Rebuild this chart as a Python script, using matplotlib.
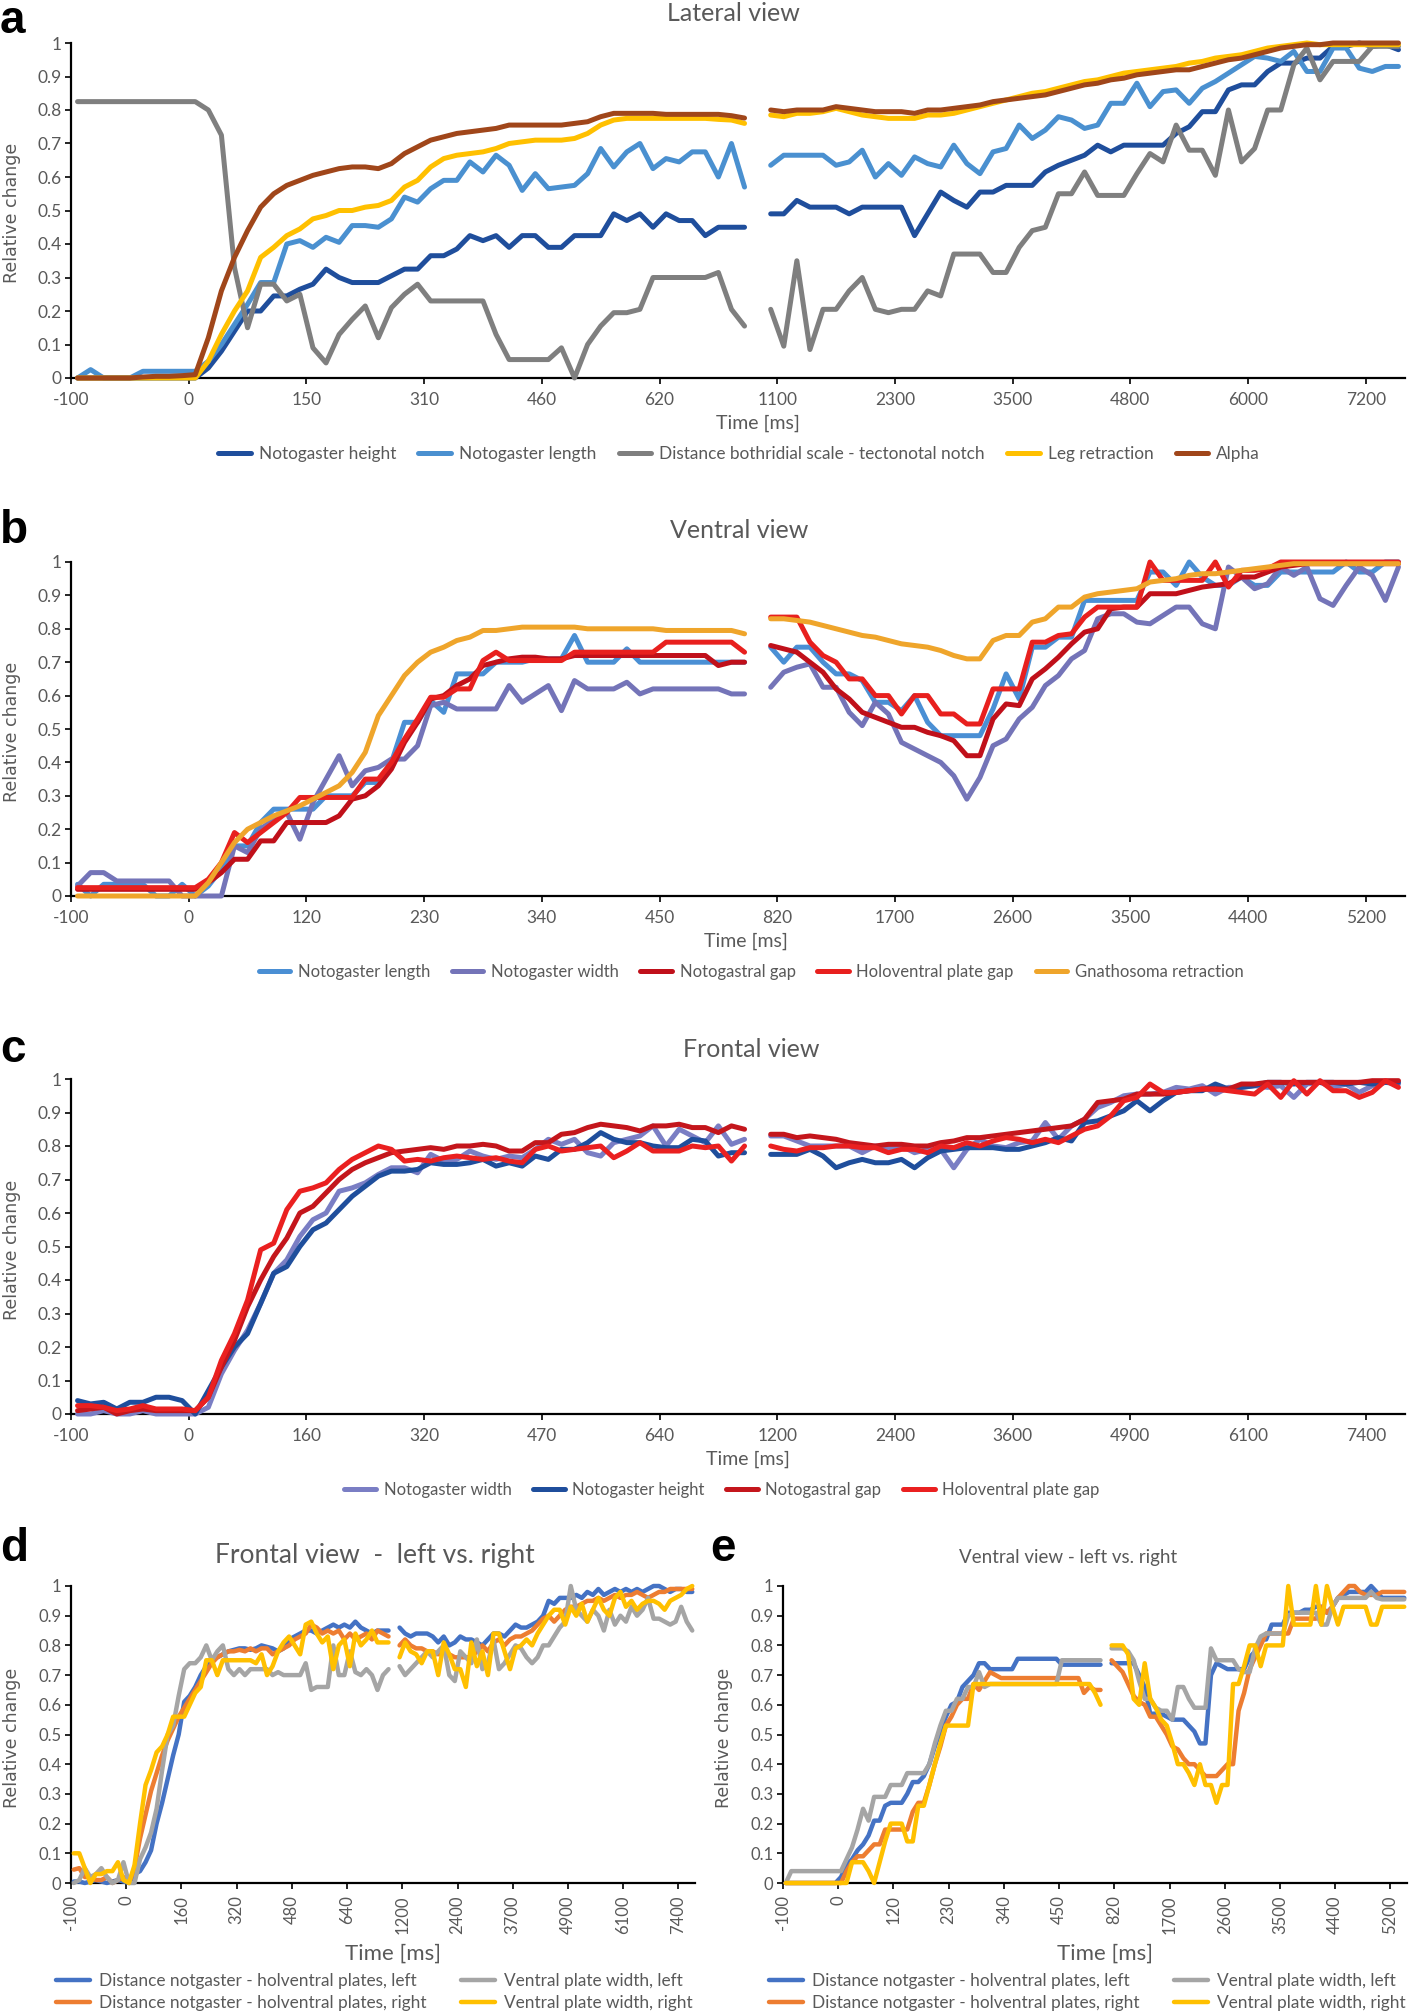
import numpy as np
import matplotlib
matplotlib.use('Agg')
import matplotlib.pyplot as plt

plt.rcParams['font.family'] = ['Lato', 'DejaVu Sans']

# ---------------- DATA ----------------
y_tick_labels = ['0', '0.1', '0.2', '0.3', '0.4', '0.5', '0.6', '0.7', '0.8', '0.9', '1']

# Panel a - Lateral view
a_ticks = ['-100', '0', '150', '310', '460', '620', '1100', '2300', '3500', '4800', '6000', '7200']
a_labels = ['Notogaster height', 'Notogaster length', 'Distance bothridial scale - tectonotal notch',
            'Leg retraction', 'Alpha']
a_height_L = [0, 0, 0, 0, 0, 0, 0, 0, 0, 0, 0.03, 0.08, 0.14, 0.20, 0.20, 0.245, 0.245, 0.265, 0.28, 0.325,
              0.30, 0.285, 0.285, 0.285, 0.305, 0.325, 0.325, 0.365, 0.365, 0.385, 0.425, 0.41, 0.425, 0.39,
              0.425, 0.425, 0.39, 0.39, 0.425, 0.425, 0.425, 0.49, 0.47, 0.49, 0.45, 0.49, 0.47, 0.47, 0.425,
              0.45, 0.45, 0.45]
a_height_R = [0.49, 0.49, 0.53, 0.51, 0.51, 0.51, 0.49, 0.51, 0.51, 0.51, 0.51, 0.425, 0.49, 0.555, 0.53, 0.51,
              0.555, 0.555, 0.575, 0.575, 0.575, 0.615, 0.635, 0.65, 0.665, 0.695, 0.675, 0.695, 0.695, 0.695,
              0.695, 0.73, 0.75, 0.795, 0.795, 0.86, 0.875, 0.875, 0.915, 0.94, 0.94, 0.955, 0.955, 0.99, 0.99,
              1.0, 0.99, 0.995, 0.98]
a_length_L = [0, 0.025, 0, 0, 0, 0.02, 0.02, 0.02, 0.02, 0.02, 0.05, 0.10, 0.16, 0.22, 0.285, 0.285, 0.40, 0.41,
              0.39, 0.42, 0.405, 0.455, 0.455, 0.45, 0.475, 0.54, 0.525, 0.565, 0.59, 0.59, 0.645, 0.615, 0.665,
              0.635, 0.56, 0.61, 0.565, 0.57, 0.575, 0.61, 0.685, 0.63, 0.675, 0.70, 0.625, 0.655, 0.645, 0.675,
              0.675, 0.60, 0.70, 0.57]
a_length_R = [0.635, 0.665, 0.665, 0.665, 0.665, 0.635, 0.645, 0.68, 0.60, 0.64, 0.605, 0.66, 0.64, 0.63, 0.695,
              0.64, 0.61, 0.675, 0.685, 0.755, 0.715, 0.74, 0.78, 0.77, 0.745, 0.755, 0.82, 0.82, 0.88, 0.81,
              0.855, 0.86, 0.82, 0.865, 0.885, 0.91, 0.935, 0.96, 0.955, 0.945, 0.975, 0.915, 0.915, 0.985,
              0.985, 0.925, 0.915, 0.93, 0.93]
a_dist_L = [0.825, 0.825, 0.825, 0.825, 0.825, 0.825, 0.825, 0.825, 0.825, 0.825, 0.80, 0.725, 0.33, 0.15, 0.28,
            0.28, 0.23, 0.25, 0.09, 0.045, 0.13, 0.175, 0.215, 0.12, 0.21, 0.25, 0.28, 0.23, 0.23, 0.23, 0.23,
            0.23, 0.13, 0.055, 0.055, 0.055, 0.055, 0.09, 0.0, 0.10, 0.155, 0.195, 0.195, 0.205, 0.30, 0.30,
            0.30, 0.30, 0.30, 0.315, 0.205, 0.155]
a_dist_R = [0.205, 0.095, 0.35, 0.085, 0.205, 0.205, 0.26, 0.30, 0.205, 0.195, 0.205, 0.205, 0.26, 0.245, 0.37,
            0.37, 0.37, 0.315, 0.315, 0.39, 0.44, 0.45, 0.55, 0.55, 0.615, 0.545, 0.545, 0.545, 0.61, 0.67,
            0.645, 0.755, 0.68, 0.68, 0.605, 0.80, 0.645, 0.685, 0.80, 0.80, 0.935, 0.985, 0.89, 0.945, 0.945,
            0.945, 0.99, 0.99, 0.99]
a_leg_L = [0, 0, 0, 0, 0, 0, 0, 0, 0, 0, 0.05, 0.13, 0.20, 0.26, 0.36, 0.39, 0.425, 0.445, 0.475, 0.485, 0.50,
           0.50, 0.51, 0.515, 0.53, 0.57, 0.59, 0.63, 0.655, 0.665, 0.67, 0.675, 0.685, 0.70, 0.705, 0.71, 0.71,
           0.71, 0.715, 0.73, 0.755, 0.77, 0.775, 0.775, 0.775, 0.775, 0.775, 0.775, 0.775, 0.772, 0.77, 0.76]
a_leg_R = [0.785, 0.78, 0.79, 0.79, 0.795, 0.805, 0.795, 0.785, 0.78, 0.775, 0.775, 0.775, 0.785, 0.785, 0.79,
           0.80, 0.81, 0.82, 0.83, 0.84, 0.85, 0.855, 0.865, 0.875, 0.885, 0.89, 0.90, 0.91, 0.915, 0.92, 0.925,
           0.93, 0.94, 0.945, 0.955, 0.96, 0.965, 0.975, 0.985, 0.99, 0.995, 1.0, 0.995, 0.995, 0.995, 0.995,
           0.995, 0.995, 0.995]
a_alpha_L = [0, 0, 0, 0, 0, 0.003, 0.005, 0.005, 0.007, 0.01, 0.12, 0.26, 0.36, 0.44, 0.51, 0.55, 0.575, 0.59,
             0.605, 0.615, 0.625, 0.63, 0.63, 0.625, 0.64, 0.67, 0.69, 0.71, 0.72, 0.73, 0.735, 0.74, 0.745, 0.755,
             0.755, 0.755, 0.755, 0.755, 0.76, 0.765, 0.78, 0.79, 0.79, 0.79, 0.79, 0.787, 0.787, 0.787, 0.787,
             0.787, 0.783, 0.776]
a_alpha_R = [0.80, 0.795, 0.80, 0.80, 0.80, 0.81, 0.805, 0.80, 0.795, 0.795, 0.795, 0.79, 0.80, 0.80, 0.805, 0.81,
             0.815, 0.825, 0.83, 0.835, 0.84, 0.845, 0.855, 0.865, 0.875, 0.88, 0.89, 0.895, 0.905, 0.91, 0.915,
             0.92, 0.92, 0.93, 0.94, 0.95, 0.955, 0.965, 0.975, 0.985, 0.99, 0.995, 0.995, 1.0, 1.0, 1.0, 1.0,
             1.0, 1.0]

# Panel b - Ventral view
b_ticks = ['-100', '0', '120', '230', '340', '450', '820', '1700', '2600', '3500', '4400', '5200']
b_labels = ['Notogaster length', 'Notogaster width', 'Notogastral gap', 'Holoventral plate gap',
            'Gnathosoma retraction']
b_length_L = [0.035, 0.0, 0.035, 0.035, 0.035, 0.035, 0.0, 0.0, 0.035, 0.0, 0.03, 0.08, 0.15, 0.15, 0.22, 0.26,
              0.26, 0.26, 0.26, 0.30, 0.30, 0.30, 0.34, 0.34, 0.40, 0.52, 0.52, 0.585, 0.55, 0.665, 0.665, 0.665,
              0.70, 0.70, 0.70, 0.71, 0.71, 0.71, 0.78, 0.70, 0.70, 0.70, 0.74, 0.70, 0.70, 0.70, 0.70, 0.70,
              0.70, 0.70, 0.70, 0.70]
b_length_R = [0.745, 0.70, 0.745, 0.745, 0.70, 0.665, 0.665, 0.645, 0.58, 0.58, 0.555, 0.60, 0.52, 0.48, 0.48,
              0.48, 0.48, 0.56, 0.665, 0.59, 0.745, 0.745, 0.775, 0.775, 0.885, 0.885, 0.885, 0.885, 0.885, 0.97,
              0.97, 0.93, 1.0, 0.955, 0.93, 0.93, 0.955, 0.93, 0.93, 0.97, 0.97, 0.97, 0.97, 0.97, 1.0, 0.97,
              0.97, 1.0, 1.0]
b_width_L = [0.03, 0.07, 0.07, 0.045, 0.045, 0.045, 0.045, 0.045, 0.0, 0.0, 0.0, 0.0, 0.15, 0.13, 0.20, 0.23,
             0.25, 0.17, 0.28, 0.35, 0.42, 0.33, 0.375, 0.385, 0.41, 0.41, 0.45, 0.57, 0.58, 0.56, 0.56, 0.56,
             0.56, 0.63, 0.58, 0.605, 0.63, 0.555, 0.645, 0.62, 0.62, 0.62, 0.64, 0.605, 0.62, 0.62, 0.62, 0.62,
             0.62, 0.62, 0.605, 0.605]
b_width_R = [0.625, 0.67, 0.685, 0.695, 0.625, 0.625, 0.55, 0.51, 0.58, 0.545, 0.46, 0.44, 0.42, 0.40, 0.36,
             0.29, 0.355, 0.45, 0.47, 0.53, 0.565, 0.63, 0.66, 0.71, 0.735, 0.83, 0.845, 0.845, 0.82, 0.815,
             0.84, 0.865, 0.865, 0.815, 0.80, 0.985, 0.955, 0.92, 0.935, 0.985, 0.96, 0.985, 0.89, 0.87, 0.93,
             0.985, 0.96, 0.885, 0.985]
b_ngap_L = [0.02, 0.02, 0.02, 0.02, 0.02, 0.02, 0.02, 0.02, 0.02, 0.02, 0.04, 0.07, 0.11, 0.11, 0.165, 0.165,
            0.22, 0.22, 0.22, 0.22, 0.24, 0.29, 0.30, 0.33, 0.38, 0.46, 0.52, 0.59, 0.60, 0.63, 0.65, 0.69, 0.70,
            0.71, 0.715, 0.715, 0.71, 0.71, 0.72, 0.72, 0.72, 0.72, 0.72, 0.72, 0.72, 0.72, 0.72, 0.72, 0.72,
            0.69, 0.70, 0.70]
b_ngap_R = [0.75, 0.74, 0.73, 0.70, 0.67, 0.62, 0.59, 0.55, 0.535, 0.52, 0.505, 0.505, 0.49, 0.48, 0.465, 0.42,
            0.42, 0.53, 0.575, 0.57, 0.65, 0.68, 0.715, 0.755, 0.79, 0.80, 0.86, 0.865, 0.865, 0.905, 0.905,
            0.905, 0.915, 0.925, 0.93, 0.935, 0.955, 0.955, 0.97, 0.985, 0.99, 0.995, 0.995, 0.995, 0.995, 0.995,
            0.995, 0.995, 0.995]
b_hgap_L = [0.025, 0.025, 0.025, 0.025, 0.025, 0.025, 0.025, 0.025, 0.025, 0.025, 0.05, 0.10, 0.19, 0.16, 0.19,
            0.22, 0.25, 0.295, 0.295, 0.295, 0.295, 0.295, 0.35, 0.35, 0.40, 0.47, 0.53, 0.595, 0.595, 0.62,
            0.62, 0.705, 0.73, 0.705, 0.705, 0.705, 0.705, 0.705, 0.73, 0.73, 0.73, 0.73, 0.73, 0.73, 0.73,
            0.76, 0.76, 0.76, 0.76, 0.76, 0.76, 0.73]
b_hgap_R = [0.835, 0.835, 0.835, 0.76, 0.72, 0.70, 0.65, 0.65, 0.60, 0.60, 0.545, 0.60, 0.60, 0.545, 0.545,
            0.515, 0.515, 0.62, 0.62, 0.62, 0.76, 0.76, 0.78, 0.785, 0.835, 0.865, 0.865, 0.865, 0.865, 1.0,
            0.945, 0.945, 0.945, 0.945, 1.0, 0.925, 0.975, 0.975, 0.98, 1.0, 1.0, 1.0, 1.0, 1.0, 1.0, 1.0, 1.0,
            1.0, 1.0]
b_gnath_L = [0, 0, 0, 0, 0, 0, 0, 0, 0, 0, 0.04, 0.10, 0.16, 0.20, 0.22, 0.24, 0.255, 0.27, 0.29, 0.31, 0.33,
             0.37, 0.43, 0.54, 0.60, 0.66, 0.70, 0.73, 0.745, 0.765, 0.775, 0.795, 0.795, 0.80, 0.805, 0.805,
             0.805, 0.805, 0.805, 0.80, 0.80, 0.80, 0.80, 0.80, 0.80, 0.795, 0.795, 0.795, 0.795, 0.795, 0.795,
             0.785]
b_gnath_R = [0.83, 0.83, 0.825, 0.82, 0.81, 0.80, 0.79, 0.78, 0.775, 0.765, 0.755, 0.75, 0.745, 0.735, 0.72,
             0.71, 0.71, 0.765, 0.78, 0.78, 0.82, 0.83, 0.865, 0.865, 0.895, 0.905, 0.91, 0.915, 0.92, 0.94,
             0.945, 0.95, 0.96, 0.965, 0.965, 0.97, 0.975, 0.98, 0.985, 0.99, 0.995, 0.995, 0.995, 0.995, 0.995,
             0.995, 0.995, 0.995, 0.995]

# Panel c - Frontal view
c_ticks = ['-100', '0', '160', '320', '470', '640', '1200', '2400', '3600', '4900', '6100', '7400']
c_labels = ['Notogaster width', 'Notogaster height', 'Notogastral gap', 'Holoventral plate gap']
c_width_L = [0.0, 0.0, 0.01, 0.0, 0.0, 0.01, 0.0, 0.0, 0.0, 0.0, 0.02, 0.12, 0.19, 0.25, 0.33, 0.42, 0.46, 0.53,
             0.58, 0.60, 0.665, 0.675, 0.69, 0.715, 0.735, 0.735, 0.72, 0.775, 0.755, 0.76, 0.785, 0.77, 0.76,
             0.77, 0.765, 0.79, 0.82, 0.805, 0.82, 0.78, 0.77, 0.81, 0.82, 0.83, 0.86, 0.80, 0.85, 0.83, 0.81,
             0.86, 0.805, 0.82]
c_width_R = [0.83, 0.83, 0.815, 0.80, 0.80, 0.80, 0.80, 0.78, 0.80, 0.795, 0.80, 0.78, 0.79, 0.79, 0.735, 0.79,
             0.82, 0.80, 0.795, 0.81, 0.815, 0.87, 0.82, 0.86, 0.88, 0.915, 0.93, 0.95, 0.955, 0.955, 0.96, 0.975,
             0.97, 0.98, 0.955, 0.975, 0.975, 0.98, 0.975, 0.98, 0.945, 0.985, 0.99, 0.975, 0.985, 0.96, 0.98,
             0.99, 0.985]
c_height_L = [0.04, 0.03, 0.035, 0.015, 0.035, 0.035, 0.05, 0.05, 0.04, 0.0, 0.07, 0.14, 0.20, 0.24, 0.33, 0.42,
              0.44, 0.50, 0.55, 0.57, 0.61, 0.65, 0.68, 0.71, 0.725, 0.725, 0.73, 0.75, 0.745, 0.745, 0.75, 0.76,
              0.74, 0.75, 0.74, 0.77, 0.76, 0.79, 0.79, 0.81, 0.84, 0.82, 0.81, 0.81, 0.80, 0.795, 0.795, 0.82,
              0.815, 0.77, 0.78, 0.78]
c_height_R = [0.775, 0.775, 0.775, 0.79, 0.77, 0.735, 0.75, 0.76, 0.75, 0.75, 0.76, 0.735, 0.765, 0.785, 0.79,
              0.795, 0.795, 0.795, 0.79, 0.79, 0.80, 0.81, 0.825, 0.815, 0.87, 0.875, 0.89, 0.905, 0.935, 0.905,
              0.935, 0.96, 0.965, 0.965, 0.985, 0.97, 0.975, 0.98, 0.99, 0.99, 0.985, 0.99, 0.99, 0.99, 0.985,
              0.99, 0.985, 0.99, 0.99]
c_ngap_L = [0.01, 0.015, 0.02, 0.0, 0.01, 0.015, 0.01, 0.01, 0.01, 0.01, 0.05, 0.14, 0.22, 0.32, 0.40, 0.47,
            0.525, 0.60, 0.62, 0.66, 0.70, 0.73, 0.75, 0.765, 0.78, 0.785, 0.79, 0.795, 0.79, 0.80, 0.80, 0.805,
            0.80, 0.785, 0.785, 0.81, 0.81, 0.835, 0.84, 0.855, 0.865, 0.86, 0.855, 0.845, 0.86, 0.86, 0.865,
            0.855, 0.855, 0.84, 0.86, 0.85]
c_ngap_R = [0.835, 0.835, 0.825, 0.83, 0.825, 0.82, 0.81, 0.805, 0.80, 0.805, 0.805, 0.80, 0.80, 0.81, 0.815,
            0.825, 0.825, 0.83, 0.835, 0.84, 0.845, 0.85, 0.855, 0.86, 0.88, 0.93, 0.935, 0.94, 0.955, 0.955,
            0.955, 0.96, 0.965, 0.97, 0.97, 0.97, 0.985, 0.985, 0.99, 0.99, 0.99, 0.99, 0.99, 0.99, 0.99, 0.99,
            0.995, 0.995, 0.995]
c_hgap_L = [0.025, 0.025, 0.02, 0.01, 0.015, 0.025, 0.015, 0.015, 0.015, 0.01, 0.05, 0.16, 0.24, 0.34, 0.49,
            0.51, 0.61, 0.665, 0.675, 0.69, 0.73, 0.76, 0.78, 0.80, 0.79, 0.755, 0.76, 0.755, 0.765, 0.77, 0.765,
            0.76, 0.765, 0.755, 0.75, 0.79, 0.80, 0.785, 0.79, 0.795, 0.80, 0.765, 0.785, 0.81, 0.785, 0.785,
            0.785, 0.80, 0.795, 0.80, 0.755, 0.80]
c_hgap_R = [0.80, 0.79, 0.785, 0.795, 0.795, 0.80, 0.80, 0.795, 0.795, 0.78, 0.79, 0.79, 0.78, 0.80, 0.795, 0.81,
            0.80, 0.815, 0.825, 0.82, 0.81, 0.82, 0.81, 0.83, 0.85, 0.86, 0.89, 0.935, 0.945, 0.985, 0.96, 0.96,
            0.965, 0.97, 0.97, 0.965, 0.96, 0.955, 0.985, 0.945, 0.995, 0.955, 0.995, 0.965, 0.965, 0.945, 0.96,
            0.995, 0.975]

# Panel d - Frontal view, left vs right
d_ticks = ['-100', '0', '160', '320', '480', '640', '1200', '2400', '3700', '4900', '6100', '7400']
lr_labels = ['Distance notgaster - holventral plates, left', 'Distance notgaster - holventral plates, right',
             'Ventral plate width, left', 'Ventral plate width, right']
d_dl_L = [0.005, 0.005, 0.0, 0.005, 0.01, 0.005, 0.0, 0.005, 0.01, 0.005, 0.0, 0.03, 0.04, 0.07, 0.11, 0.20, 0.27,
          0.35, 0.43, 0.50, 0.61, 0.63, 0.66, 0.70, 0.73, 0.75, 0.76, 0.77, 0.78, 0.785, 0.79, 0.79, 0.785, 0.79,
          0.80, 0.795, 0.79, 0.78, 0.79, 0.82, 0.83, 0.84, 0.85, 0.85, 0.84, 0.85, 0.86, 0.87, 0.86, 0.87, 0.86,
          0.88, 0.86, 0.85, 0.84, 0.85, 0.85, 0.85]
d_dl_R = [0.86, 0.84, 0.83, 0.84, 0.84, 0.84, 0.83, 0.81, 0.83, 0.80, 0.81, 0.83, 0.82, 0.82, 0.81, 0.80, 0.82,
          0.84, 0.84, 0.83, 0.85, 0.87, 0.86, 0.86, 0.87, 0.88, 0.90, 0.95, 0.94, 0.96, 0.96, 0.96, 0.97, 0.96,
          0.98, 0.97, 0.99, 0.97, 0.98, 0.99, 0.98, 0.99, 0.98, 0.99, 0.98, 0.99, 1.0, 1.0, 0.99, 0.98, 0.99,
          0.99, 0.98, 0.98]
d_dr_L = [0.045, 0.05, 0.02, 0.02, 0.01, 0.01, 0.02, 0.0, 0.01, 0.02, 0.0, 0.05, 0.15, 0.23, 0.31, 0.37, 0.43,
          0.48, 0.52, 0.56, 0.59, 0.62, 0.65, 0.68, 0.71, 0.74, 0.76, 0.77, 0.78, 0.78, 0.785, 0.78, 0.79, 0.78,
          0.79, 0.79, 0.77, 0.78, 0.79, 0.80, 0.82, 0.83, 0.84, 0.87, 0.86, 0.84, 0.85, 0.84, 0.85, 0.82, 0.84,
          0.82, 0.83, 0.84, 0.82, 0.85, 0.84, 0.83]
d_dr_R = [0.80, 0.82, 0.80, 0.79, 0.79, 0.78, 0.78, 0.77, 0.78, 0.77, 0.76, 0.76, 0.76, 0.76, 0.78, 0.80, 0.78,
          0.81, 0.82, 0.80, 0.82, 0.83, 0.83, 0.84, 0.85, 0.87, 0.89, 0.90, 0.88, 0.90, 0.92, 0.93, 0.93, 0.94,
          0.95, 0.95, 0.96, 0.95, 0.96, 0.97, 0.96, 0.97, 0.97, 0.98, 0.97, 0.96, 0.97, 0.98, 0.98, 0.99, 0.99,
          0.99, 0.99, 0.99]
d_vl_L = [0.0, 0.01, 0.05, 0.02, 0.03, 0.05, 0.02, 0.0, 0.01, 0.07, 0.0, 0.0, 0.08, 0.12, 0.17, 0.25, 0.38, 0.50,
          0.53, 0.63, 0.72, 0.74, 0.74, 0.76, 0.80, 0.75, 0.78, 0.80, 0.72, 0.70, 0.72, 0.70, 0.72, 0.72, 0.72,
          0.72, 0.70, 0.71, 0.70, 0.70, 0.70, 0.70, 0.74, 0.65, 0.66, 0.66, 0.66, 0.80, 0.70, 0.70, 0.78, 0.71,
          0.70, 0.72, 0.70, 0.65, 0.70, 0.72]
d_vl_R = [0.73, 0.70, 0.72, 0.74, 0.76, 0.78, 0.76, 0.78, 0.80, 0.70, 0.68, 0.78, 0.76, 0.74, 0.82, 0.72, 0.74,
          0.82, 0.72, 0.74, 0.77, 0.80, 0.79, 0.76, 0.74, 0.76, 0.80, 0.80, 0.83, 0.86, 0.88, 1.0, 0.92, 0.90,
          0.88, 0.92, 0.90, 0.85, 0.92, 0.87, 0.90, 0.88, 0.93, 0.90, 0.92, 0.96, 0.89, 0.89, 0.88, 0.87, 0.88,
          0.93, 0.88, 0.85]
d_vr_L = [0.10, 0.10, 0.05, 0.0, 0.03, 0.03, 0.04, 0.04, 0.07, 0.01, 0.0, 0.06, 0.20, 0.33, 0.38, 0.44, 0.46,
          0.50, 0.56, 0.56, 0.56, 0.60, 0.64, 0.66, 0.75, 0.75, 0.70, 0.75, 0.75, 0.75, 0.75, 0.75, 0.75, 0.74,
          0.77, 0.70, 0.73, 0.78, 0.81, 0.83, 0.80, 0.77, 0.87, 0.88, 0.84, 0.81, 0.83, 0.72, 0.80, 0.82, 0.73,
          0.84, 0.80, 0.82, 0.85, 0.81, 0.81, 0.81]
d_vr_R = [0.76, 0.81, 0.78, 0.77, 0.74, 0.78, 0.78, 0.70, 0.81, 0.77, 0.72, 0.72, 0.66, 0.81, 0.73, 0.78, 0.70,
          0.84, 0.84, 0.78, 0.72, 0.79, 0.80, 0.82, 0.80, 0.84, 0.87, 0.90, 0.92, 0.92, 0.87, 0.93, 0.90, 0.94,
          0.88, 0.92, 0.96, 0.92, 0.90, 0.96, 0.98, 0.93, 0.95, 0.92, 0.94, 0.95, 0.95, 0.94, 0.92, 0.95, 0.96,
          0.97, 0.99, 1.0]

# Panel e - Ventral view, left vs right
e_ticks = ['-100', '0', '120', '230', '340', '450', '820', '1700', '2600', '3500', '4400', '5200']
e_dl_L = [0, 0, 0, 0, 0, 0, 0, 0, 0, 0, 0.02, 0.06, 0.08, 0.11, 0.13, 0.16, 0.21, 0.21, 0.26, 0.27, 0.27, 0.27,
          0.30, 0.34, 0.34, 0.36, 0.40, 0.46, 0.51, 0.56, 0.60, 0.61, 0.66, 0.68, 0.70, 0.74, 0.74, 0.72, 0.72,
          0.72, 0.72, 0.72, 0.755, 0.755, 0.755, 0.755, 0.755, 0.755, 0.755, 0.755, 0.735, 0.735, 0.735, 0.735,
          0.735, 0.735, 0.735, 0.735]
e_dl_R = [0.74, 0.74, 0.74, 0.74, 0.74, 0.70, 0.66, 0.57, 0.57, 0.57, 0.56, 0.55, 0.55, 0.55, 0.53, 0.51, 0.47,
          0.47, 0.70, 0.74, 0.73, 0.72, 0.72, 0.72, 0.72, 0.76, 0.78, 0.82, 0.82, 0.87, 0.87, 0.87, 0.91, 0.91,
          0.91, 0.92, 0.92, 0.93, 0.93, 0.91, 0.93, 0.96, 0.97, 0.98, 0.98, 0.98, 0.98, 1.0, 0.98, 0.96, 0.96,
          0.96, 0.96, 0.96]
e_dr_L = [0, 0, 0, 0, 0, 0, 0, 0, 0, 0, 0.0, 0.04, 0.07, 0.09, 0.09, 0.11, 0.13, 0.13, 0.18, 0.18, 0.18, 0.18,
          0.18, 0.24, 0.27, 0.27, 0.33, 0.40, 0.46, 0.53, 0.56, 0.60, 0.62, 0.62, 0.67, 0.65, 0.68, 0.71, 0.70,
          0.69, 0.69, 0.69, 0.69, 0.69, 0.69, 0.69, 0.69, 0.69, 0.69, 0.69, 0.69, 0.69, 0.69, 0.69, 0.64, 0.66,
          0.65, 0.65]
e_dr_R = [0.75, 0.73, 0.71, 0.67, 0.63, 0.61, 0.60, 0.56, 0.56, 0.53, 0.50, 0.46, 0.45, 0.42, 0.40, 0.40, 0.38,
          0.36, 0.36, 0.36, 0.38, 0.40, 0.40, 0.58, 0.64, 0.72, 0.76, 0.80, 0.84, 0.84, 0.84, 0.84, 0.84, 0.89,
          0.89, 0.89, 0.89, 0.89, 0.93, 0.91, 0.93, 0.96, 0.98, 1.0, 1.0, 0.98, 0.97, 0.97, 0.97, 0.98, 0.98,
          0.98, 0.98, 0.98]
e_vl_L = [0.0, 0.04, 0.04, 0.04, 0.04, 0.04, 0.04, 0.04, 0.04, 0.04, 0.04, 0.08, 0.12, 0.18, 0.25, 0.21, 0.29,
          0.29, 0.29, 0.33, 0.33, 0.33, 0.37, 0.37, 0.37, 0.37, 0.40, 0.47, 0.53, 0.58, 0.58, 0.62, 0.62, 0.66,
          0.66, 0.71, 0.66, 0.67, 0.67, 0.67, 0.67, 0.67, 0.67, 0.67, 0.67, 0.67, 0.67, 0.67, 0.67, 0.67, 0.75,
          0.75, 0.75, 0.75, 0.75, 0.75, 0.75, 0.75]
e_vl_R = [0.79, 0.79, 0.79, 0.78, 0.75, 0.68, 0.62, 0.62, 0.59, 0.58, 0.58, 0.55, 0.66, 0.66, 0.62, 0.59, 0.59,
          0.59, 0.79, 0.75, 0.75, 0.75, 0.75, 0.72, 0.71, 0.71, 0.79, 0.83, 0.84, 0.84, 0.84, 0.84, 0.90, 0.91,
          0.91, 0.91, 0.91, 0.91, 0.87, 0.87, 0.93, 0.96, 0.96, 0.96, 0.96, 0.96, 0.96, 0.98, 0.96, 0.955, 0.955,
          0.955, 0.955, 0.955]
e_vr_L = [0, 0, 0, 0, 0, 0, 0, 0, 0, 0, 0, 0, 0.07, 0.07, 0.07, 0.04, 0.0, 0.07, 0.14, 0.20, 0.20, 0.20, 0.14,
          0.14, 0.26, 0.26, 0.33, 0.40, 0.47, 0.53, 0.53, 0.53, 0.53, 0.53, 0.67, 0.67, 0.67, 0.67, 0.67, 0.67,
          0.67, 0.67, 0.67, 0.67, 0.67, 0.67, 0.67, 0.67, 0.67, 0.67, 0.67, 0.67, 0.67, 0.67, 0.67, 0.67, 0.64,
          0.60]
e_vr_R = [0.80, 0.80, 0.80, 0.77, 0.62, 0.60, 0.74, 0.62, 0.59, 0.55, 0.53, 0.47, 0.40, 0.40, 0.37, 0.33, 0.40,
          0.33, 0.33, 0.27, 0.33, 0.33, 0.67, 0.67, 0.73, 0.80, 0.80, 0.73, 0.80, 0.80, 0.80, 0.80, 1.0, 0.87,
          0.87, 0.87, 0.87, 1.0, 0.87, 1.0, 0.93, 0.87, 0.93, 0.93, 0.93, 0.93, 0.93, 0.87, 0.87, 0.93, 0.93,
          0.93, 0.93, 0.93]

# ---------------- LAYOUT / STYLE ----------------
W, H = 1418, 2016
fig = plt.figure(figsize=(W / 100, H / 100), dpi=100)
TXT = '#595959'


def fx(x):
    return x / W


def fy(y):
    return 1 - y / H


def make_ax(l, r, t, b):
    return fig.add_axes([fx(l), fy(b), (r - l) / W, (b - t) / H])


def setup(ax, ncat, step, labels, rot, fs, pad):
    ax.set_xlim(-0.5, ncat - 0.5)
    ax.set_ylim(0, 1)
    ax.set_xticks([step * k - 0.5 for k in range(len(labels))])
    ax.set_xticklabels(labels, rotation=rot, fontsize=fs, color=TXT)
    ax.set_yticks(np.linspace(0, 1, 11))
    ax.set_yticklabels(y_tick_labels, fontsize=fs, color=TXT)
    for s in ['top', 'right']:
        ax.spines[s].set_visible(False)
    for s in ['left', 'bottom']:
        ax.spines[s].set_linewidth(1.6)
        ax.spines[s].set_color('black')
    ax.tick_params(axis='y', direction='out', length=4, width=1.2, pad=3)
    ax.tick_params(axis='x', direction='out', length=4, width=1.2, pad=pad)
    ax.patch.set_alpha(0)


def draw(ax, left, right, rstart, color, lw):
    kw = dict(color=color, lw=lw, solid_capstyle='round', solid_joinstyle='round', clip_on=False, zorder=3)
    ln, = ax.plot(np.arange(len(left)), left, **kw)
    ax.plot(rstart + np.arange(len(right)), right, **kw)
    return ln


def panel_letter(x, y, s):
    fig.text(fx(x), fy(y), s, fontsize=33, fontweight='bold', family='Liberation Sans',
             ha='left', va='baseline', color='black')


def ylab(x, y):
    fig.text(fx(x), fy(y), 'Relative change', rotation=90, ha='center', va='center',
             fontsize=12.5, family='DejaVu Sans', color=TXT)


def row_legend(handles, labels, cx, cy, ncol, fs):
    fig.legend(handles, labels, loc='center', bbox_to_anchor=(fx(cx), fy(cy)), ncol=ncol, frameon=False,
               fontsize=fs, handlelength=1.9, handletextpad=0.45, columnspacing=1.3, labelcolor=TXT,
               borderpad=0, borderaxespad=0)


# ----- Panel a -----
ax = make_ax(71, 1405, 43, 378)
setup(ax, 102, 9, a_ticks, 0, 12.5, 6)
cols = ['#1F4E9C', '#4A90D0', '#7F7F7F', '#FFC000', '#A0461A']
series = [(a_height_L, a_height_R), (a_length_L, a_length_R), (a_dist_L, a_dist_R),
          (a_leg_L, a_leg_R), (a_alpha_L, a_alpha_R)]
hs = [draw(ax, L, R, 53, c, 3.6) for (L, R), c in zip(series, cols)]
row_legend(hs, a_labels, 739, 454, 5, 12.4)
fig.text(fx(733), fy(21), 'Lateral view', fontsize=18, ha='center', va='baseline', color=TXT)
fig.text(fx(758), fy(429), 'Time [ms]', fontsize=14, ha='center', va='baseline', color=TXT)
panel_letter(0, 33, 'a')
ylab(12, 213)

# ----- Panel b -----
ax = make_ax(71, 1405, 562, 896)
setup(ax, 102, 9, b_ticks, 0, 12.5, 6)
cols = ['#4A8FD4', '#7474B8', '#C0101A', '#E8201E', '#EFA52B']
series = [(b_length_L, b_length_R), (b_width_L, b_width_R), (b_ngap_L, b_ngap_R),
          (b_hgap_L, b_hgap_R), (b_gnath_L, b_gnath_R)]
hs = [draw(ax, L, R, 53, c, 3.6) for (L, R), c in zip(series, cols)]
row_legend(hs, b_labels, 751, 972, 5, 12)
fig.text(fx(739), fy(538), 'Ventral view', fontsize=18, ha='center', va='baseline', color=TXT)
fig.text(fx(746), fy(947), 'Time [ms]', fontsize=14, ha='center', va='baseline', color=TXT)
panel_letter(0, 543, 'b')
ylab(12, 732)

# ----- Panel c -----
ax = make_ax(71, 1405, 1079, 1414)
setup(ax, 102, 9, c_ticks, 0, 12.5, 6)
cols = ['#7A7EC4', '#1F4E9C', '#C4161C', '#EA2020']
series = [(c_width_L, c_width_R), (c_height_L, c_height_R), (c_ngap_L, c_ngap_R), (c_hgap_L, c_hgap_R)]
hs = [draw(ax, L, R, 53, c, 3.6) for (L, R), c in zip(series, cols)]
row_legend(hs, c_labels, 722, 1490, 4, 12)
fig.text(fx(751), fy(1057), 'Frontal view', fontsize=18, ha='center', va='baseline', color=TXT)
fig.text(fx(748), fy(1465), 'Time [ms]', fontsize=14, ha='center', va='baseline', color=TXT)
panel_letter(0, 1062, 'c')
ylab(12, 1250)

# ----- Panels d, e -----
lr_cols = ['#4472C4', '#ED7D31', '#A5A5A5', '#FFC000']


def lr_panel(l, r, ticks, series, title, tsize, tx, letter, lx, legx, ylx):
    ax = make_ax(l, r, 1586, 1883)
    setup(ax, 113, 10, ticks, 90, 12, 5)
    hs = [draw(ax, L, R, 59, c, 3.2) for (L, R), c in zip(series, lr_cols)]
    fig.legend(hs, lr_labels, loc='center left', bbox_to_anchor=(fx(legx), fy(1992)), ncol=2,
               frameon=False, fontsize=12.4, handlelength=2.0, handletextpad=0.5, columnspacing=2.0,
               labelspacing=0.4, labelcolor=TXT, borderpad=0, borderaxespad=0)
    fig.text(fx(tx), fy(1563), title, fontsize=tsize, ha='center', va='baseline', color=TXT)
    fig.text(fx((l + r) / 2 + 10), fy(1960), 'Time [ms]', fontsize=16, ha='center', va='baseline', color=TXT)
    panel_letter(lx, 1561, letter)
    ylab(ylx, 1738)


lr_panel(71, 695, d_ticks, [(d_dl_L, d_dl_R), (d_dr_L, d_dr_R), (d_vl_L, d_vl_R), (d_vr_L, d_vr_R)],
         'Frontal view  -  left vs. right', 19, 375, 'd', 0, 56, 12)
lr_panel(783, 1407, e_ticks, [(e_dl_L, e_dl_R), (e_dr_L, e_dr_R), (e_vl_L, e_vl_R), (e_vr_L, e_vr_R)],
         'Ventral view - left vs. right', 13.5, 1068, 'e', 710, 769, 724)

fig.savefig('out.png', dpi=100)
